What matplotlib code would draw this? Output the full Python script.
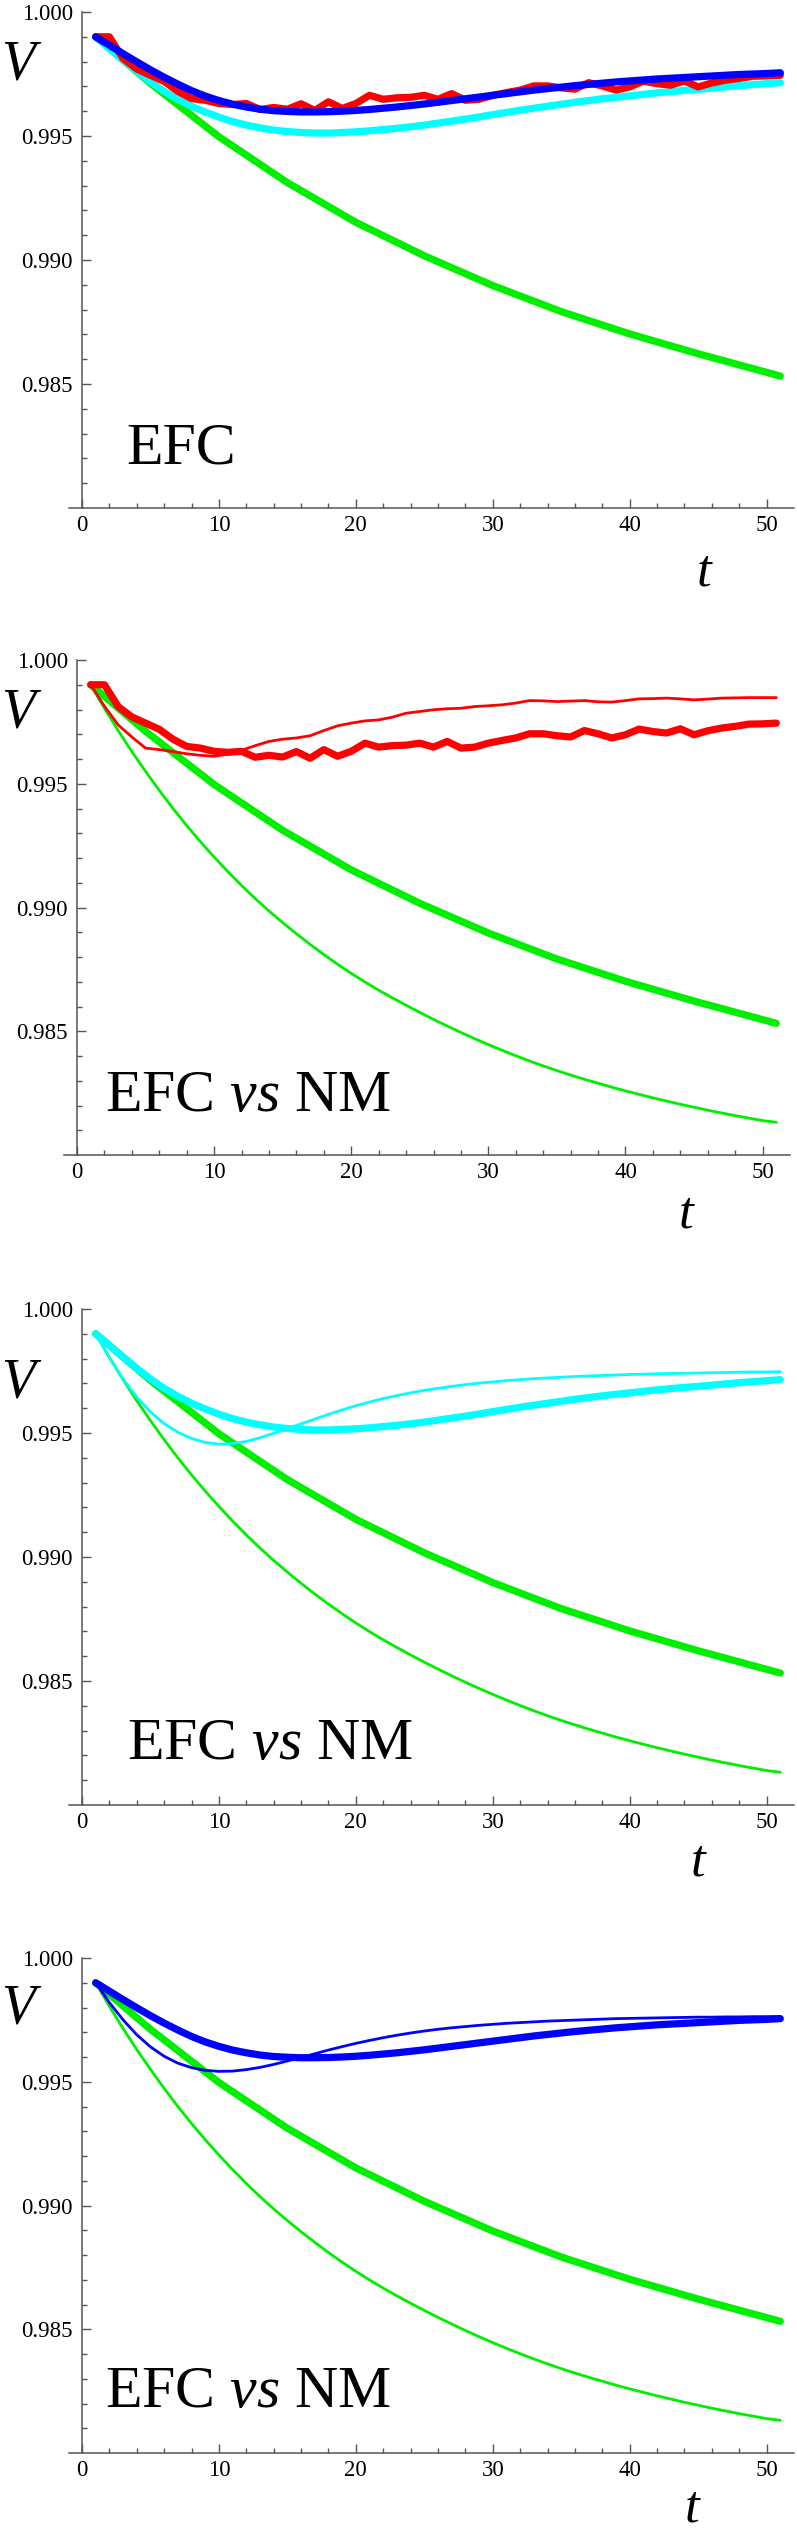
import matplotlib
matplotlib.use("Agg")
import matplotlib.pyplot as plt
from matplotlib.ticker import MultipleLocator, FixedLocator, FuncFormatter

plt.rcParams['font.family'] = ['Liberation Serif', 'DejaVu Serif']
plt.rcParams['mathtext.fontset'] = 'custom'
plt.rcParams['mathtext.rm'] = 'Liberation Serif'
plt.rcParams['mathtext.it'] = 'Liberation Serif:italic'

# ---------------- data ----------------
t = list(range(1, 52))

efc_red = [0.99900, 0.99900, 0.99812, 0.99770, 0.99745, 0.99720, 0.99680, 0.99651, 0.99644, 0.99631,
           0.99627, 0.99631, 0.99607, 0.99615, 0.99608, 0.99630, 0.99603, 0.99638, 0.99611, 0.99631,
           0.99664, 0.99648, 0.99654, 0.99656, 0.99664, 0.99648, 0.99671, 0.99644, 0.99648, 0.99664,
           0.99675, 0.99685, 0.99702, 0.99702, 0.99694, 0.99689, 0.99715, 0.99702, 0.99685, 0.99698,
           0.99721, 0.99711, 0.99705, 0.99722, 0.99698, 0.99714, 0.99725, 0.99732, 0.99741, 0.99742,
           0.99745]

nm_red = [0.99900, 0.99813, 0.99738, 0.99689, 0.99644, 0.99638, 0.99630, 0.99621, 0.99615, 0.99611,
          0.99620, 0.99635, 0.99654, 0.99671, 0.99680, 0.99685, 0.99694, 0.99715, 0.99734, 0.99745,
          0.99754, 0.99758, 0.99769, 0.99785, 0.99792, 0.99799, 0.99803, 0.99805, 0.99812, 0.99815,
          0.99819, 0.99826, 0.99836, 0.99835, 0.99832, 0.99834, 0.99836, 0.99831, 0.99830, 0.99836,
          0.99843, 0.99844, 0.99846, 0.99843, 0.99839, 0.99842, 0.99846, 0.99847, 0.99848, 0.99848,
          0.99848]

efc_green = [0.99900, 0.99853, 0.99806, 0.99759, 0.99712, 0.99669, 0.99626, 0.99583, 0.99540, 0.99497,
             0.99460, 0.99423, 0.99386, 0.99349, 0.99312, 0.99280, 0.99248, 0.99216, 0.99184, 0.99152,
             0.99125, 0.99098, 0.99071, 0.99044, 0.99017, 0.98993, 0.98969, 0.98945, 0.98921, 0.98897,
             0.98876, 0.98855, 0.98834, 0.98813, 0.98792, 0.98774, 0.98756, 0.98738, 0.98720, 0.98702,
             0.98686, 0.98670, 0.98654, 0.98638, 0.98622, 0.98607, 0.98592, 0.98577, 0.98562, 0.98547,
             0.98532]

nm_green = [0.99900, 0.99805, 0.99715, 0.99630, 0.99550, 0.99473, 0.99400, 0.99331, 0.99266, 0.99204,
            0.99145, 0.99089, 0.99036, 0.98986, 0.98939, 0.98894, 0.98851, 0.98810, 0.98771, 0.98734,
            0.98699, 0.98666, 0.98635, 0.98605, 0.98576, 0.98548, 0.98521, 0.98495, 0.98470, 0.98446,
            0.98423, 0.98401, 0.98380, 0.98360, 0.98341, 0.98323, 0.98306, 0.98290, 0.98274, 0.98259,
            0.98245, 0.98231, 0.98218, 0.98205, 0.98193, 0.98181, 0.98170, 0.98159, 0.98149, 0.98139,
            0.98132]

efc_cyan = [0.99900, 0.99853, 0.99806, 0.99761, 0.99718, 0.99680, 0.99648, 0.99620, 0.99597, 0.99576,
            0.99558, 0.99544, 0.99533, 0.99524, 0.99518, 0.99514, 0.99512, 0.99512, 0.99514, 0.99517,
            0.99521, 0.99526, 0.99531, 0.99537, 0.99544, 0.99552, 0.99560, 0.99568, 0.99577, 0.99586,
            0.99595, 0.99604, 0.99612, 0.99620, 0.99628, 0.99636, 0.99643, 0.99650, 0.99656, 0.99662,
            0.99668, 0.99674, 0.99679, 0.99684, 0.99688, 0.99693, 0.99698, 0.99703, 0.99707, 0.99711,
            0.99715]

nm_cyan = [0.99900, 0.99805, 0.99718, 0.99645, 0.99585, 0.99538, 0.99503, 0.99478, 0.99462, 0.99455,
           0.99457, 0.99466, 0.99481, 0.99499, 0.99518, 0.99537, 0.99556, 0.99575, 0.99593, 0.99610,
           0.99625, 0.99639, 0.99651, 0.99662, 0.99672, 0.99680, 0.99688, 0.99695, 0.99701, 0.99706,
           0.99711, 0.99715, 0.99719, 0.99722, 0.99725, 0.99728, 0.99730, 0.99732, 0.99734, 0.99736,
           0.99737, 0.99739, 0.99740, 0.99741, 0.99742, 0.99743, 0.99744, 0.99745, 0.99746, 0.99746,
           0.99747]

efc_blue = [0.99900, 0.99866, 0.99832, 0.99799, 0.99767, 0.99737, 0.99709, 0.99683, 0.99661, 0.99643,
            0.99628, 0.99617, 0.99608, 0.99602, 0.99599, 0.99597, 0.99597, 0.99598, 0.99600, 0.99603,
            0.99607, 0.99612, 0.99617, 0.99623, 0.99629, 0.99636, 0.99643, 0.99650, 0.99657, 0.99664,
            0.99671, 0.99678, 0.99685, 0.99691, 0.99697, 0.99703, 0.99708, 0.99713, 0.99718, 0.99722,
            0.99726, 0.99730, 0.99733, 0.99736, 0.99739, 0.99742, 0.99745, 0.99748, 0.99750, 0.99752,
            0.99755]

nm_blue = [0.99900, 0.99820, 0.99750, 0.99690, 0.99641, 0.99603, 0.99575, 0.99557, 0.99546, 0.99542,
           0.99543, 0.99549, 0.99558, 0.99570, 0.99584, 0.99598, 0.99613, 0.99628, 0.99642, 0.99655,
           0.99667, 0.99678, 0.99688, 0.99697, 0.99705, 0.99712, 0.99718, 0.99723, 0.99728, 0.99732,
           0.99736, 0.99739, 0.99742, 0.99745, 0.99747, 0.99749, 0.99751, 0.99753, 0.99755, 0.99756,
           0.99757, 0.99758, 0.99759, 0.99760, 0.99761, 0.99761, 0.99762, 0.99762, 0.99763, 0.99763,
           0.99763]

y_major = [0.985, 0.990, 0.995, 1.000]
x_major = [0, 10, 20, 30, 40, 50]
panel_texts = ["EFC", "EFC $vs$ NM", "EFC $vs$ NM", "EFC $vs$ NM"]

RED, GREEN, CYAN, BLUE = "#ff0000", "#00ee00", "#00ffff", "#0000ff"
THICK, THIN = 5.2, 2.0

# ---------------- layout (pixels) ----------------
W, H = 797, 2528
fig = plt.figure(figsize=(W / 100, H / 100), dpi=100)

# (left, right, top, bottom, x0_pixel, t_label_xy, V_offset, text_x, text_y)
layout = [
    (69, 794, 12, 508, 82, (704, 572), 54, 3.2, 0.98181),
    (63.5, 790, 660, 1155, 77, (686, 1215), 53, 2.05, 0.98178),
    (69, 794, 1309, 1805, 82, (698, 1863), 74, 3.3, 0.98185),
    (69, 794, 1958, 2453, 82, (692, 2508), 52, 1.68, 0.98185),
]

series = [
    [(efc_green, GREEN, THICK), (efc_cyan, CYAN, THICK), (efc_red, RED, THICK), (efc_blue, BLUE, THICK)],
    [(nm_green, GREEN, THIN), (efc_green, GREEN, THICK), (nm_red, RED, THIN), (efc_red, RED, THICK)],
    [(nm_green, GREEN, THIN), (efc_green, GREEN, THICK), (nm_cyan, CYAN, THIN), (efc_cyan, CYAN, THICK)],
    [(nm_green, GREEN, THIN), (efc_green, GREEN, THICK), (nm_blue, BLUE, THIN), (efc_blue, BLUE, THICK)],
]

AX_COL = "#555555"
for i, (l, r, tp, bt, x0, tlab, voff, tx, ty) in enumerate(layout):
    ax = fig.add_axes([l / W, 1 - bt / H, (r - l) / W, (bt - tp) / H])
    unit = (r - x0) / 52.0
    xmin = -(x0 - l) / unit
    for vals, col, lw in series[i]:
        ax.plot(t, vals, color=col, lw=lw, solid_capstyle='round', solid_joinstyle='round',
                clip_on=False)
    ax.set_xlim(xmin, 52.0)
    ax.set_ylim(0.980, 1.000)
    for s in ("top", "right"):
        ax.spines[s].set_visible(False)
    ax.spines["left"].set_position(("data", 0))
    for s in ("left", "bottom"):
        ax.spines[s].set_color(AX_COL)
        ax.spines[s].set_linewidth(1.1)
    ax.set_yticks(y_major)
    ax.yaxis.set_major_formatter(FuncFormatter(lambda v, p: f"{v:.3f}"))
    ax.yaxis.set_minor_locator(FixedLocator([0.980 + k * 0.001 for k in range(1, 20) if k % 5 != 0]))
    ax.set_xticks(x_major)
    ax.xaxis.set_minor_locator(FixedLocator([k for k in range(2, 52, 2) if k % 10 != 0]))
    ax.tick_params(which="major", direction="in", length=6.5, width=1.0, color=AX_COL,
                   labelsize=16.5, labelcolor="black")
    ax.tick_params(which="minor", direction="in", length=3.6, width=1.0, color=AX_COL)
    ax.tick_params(axis="y", which="major", pad=6.5)
    ax.tick_params(axis="x", which="major", pad=5)
    ax.patch.set_alpha(0)

    # axis labels
    fig.text(18 / W, 1 - (tp + voff) / H, "V", fontsize=40, style="italic",
             ha="center", va="center")
    fig.text(tlab[0] / W, 1 - tlab[1] / H, "t", fontsize=38, style="italic",
             ha="center", va="center")
    ax.text(tx, ty, panel_texts[i], fontsize=43, ha="left", va="baseline")

fig.savefig("out.png", dpi=100)
